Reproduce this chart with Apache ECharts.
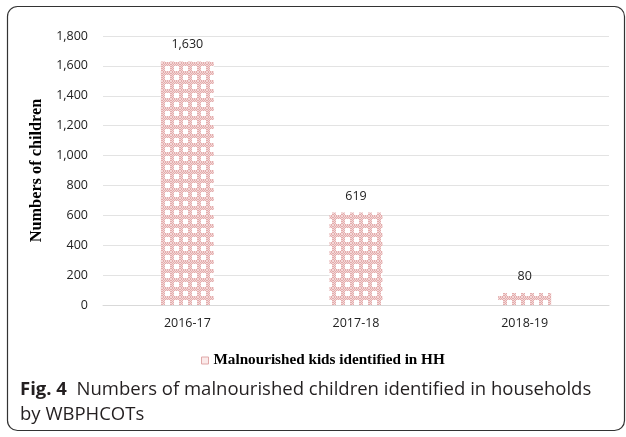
<!DOCTYPE html>
<html><head><meta charset="utf-8">
<script src="https://cdn.jsdelivr.net/npm/echarts@6/dist/echarts.min.js"></script>
<style>html,body{margin:0;padding:0;background:#fff}#c{width:626px;height:437px}</style>
</head><body><div id="c"></div>
<script>
const categories = ['2016-17', '2017-18', '2018-19'];
const values = [1630, 619, 80];
const seriesName = 'Malnourished kids identified in HH';
const yTicks = { min: 0, max: 1800, interval: 200 };

function makePattern() {
  const c = document.createElement('canvas');
  c.width = 9; c.height = 9;
  const g = c.getContext('2d');
  g.fillStyle = '#e3acac'; g.fillRect(0, 0, 9, 9);
  g.fillStyle = '#f4d8d8';
  for (let y = 0; y < 9; y++) for (let x = 0; x < 9; x++) if ((x + y) % 2 === 0) g.fillRect(x, y, 1, 1);
  g.fillStyle = '#ffffff'; g.fillRect(3, 3, 5, 5);
  return c;
}
const pat = makePattern();

const chart = echarts.init(document.getElementById('c'), null, { renderer: 'canvas' });
chart.setOption({
  animation: false,
  grid: { left: 103, right: 17, top: 36, bottom: 132 },
  graphic: [
    { type: 'rect', shape: { x: 7.5, y: 6.5, width: 617, height: 424, r: 10 },
      style: { fill: 'none', stroke: '#333', lineWidth: 1.2 }, z: -1 },
    { type: 'text', left: 20, top: 377,
      style: { rich: { b: { fontFamily: 'Open Sans', fontWeight: 'bold', fontSize: 18.5, fill: '#231f20' },
                       n: { fontFamily: 'Open Sans', fontSize: 18.5, fill: '#231f20' } },
               text: '{b|Fig. 4}{n|  Numbers of malnourished children identified in households}\n{n|by WBPHCOTs}',
               lineHeight: 25 } }
  ],
  xAxis: {
    type: 'category', data: categories,
    axisLine: { lineStyle: { color: '#d9d9d9' } },
    axisTick: { show: false },
    axisLabel: { color: '#222', fontSize: 12.5, fontFamily: 'Open Sans', margin: 12 }
  },
  yAxis: {
    type: 'value', min: yTicks.min, max: yTicks.max, interval: yTicks.interval,
    name: 'Numbers of children', nameLocation: 'middle', nameGap: 51, nameRotate: 90,
    nameTextStyle: { fontFamily: 'Liberation Serif', fontWeight: 'bold', fontSize: 16.3, color: '#000' },
    axisLine: { show: false }, axisTick: { show: false },
    splitLine: { lineStyle: { color: '#e3e3e3' } },
    axisLabel: { color: '#222', fontSize: 12.5, fontFamily: 'Open Sans', margin: 15,
      formatter: v => v.toLocaleString('en-US') }
  },
  legend: {
    top: 348, left: 196, icon: 'rect', itemWidth: 7, itemHeight: 7, itemGap: 5,
    data: [seriesName],
    itemStyle: { color: '#fbeaea', borderColor: '#e0a8a8', borderWidth: 1 },
    textStyle: { fontFamily: 'Liberation Serif', fontWeight: 'bold', fontSize: 15.2, color: '#000' }
  },
  series: [{
    name: seriesName, type: 'bar', data: values, barWidth: 53,
    itemStyle: { color: { image: pat, repeat: 'repeat' } },
    label: { show: true, position: 'top', distance: 10, color: '#222', fontSize: 12.5, fontFamily: 'Open Sans',
      formatter: p => p.value.toLocaleString('en-US') }
  }]
});
</script></body></html>
